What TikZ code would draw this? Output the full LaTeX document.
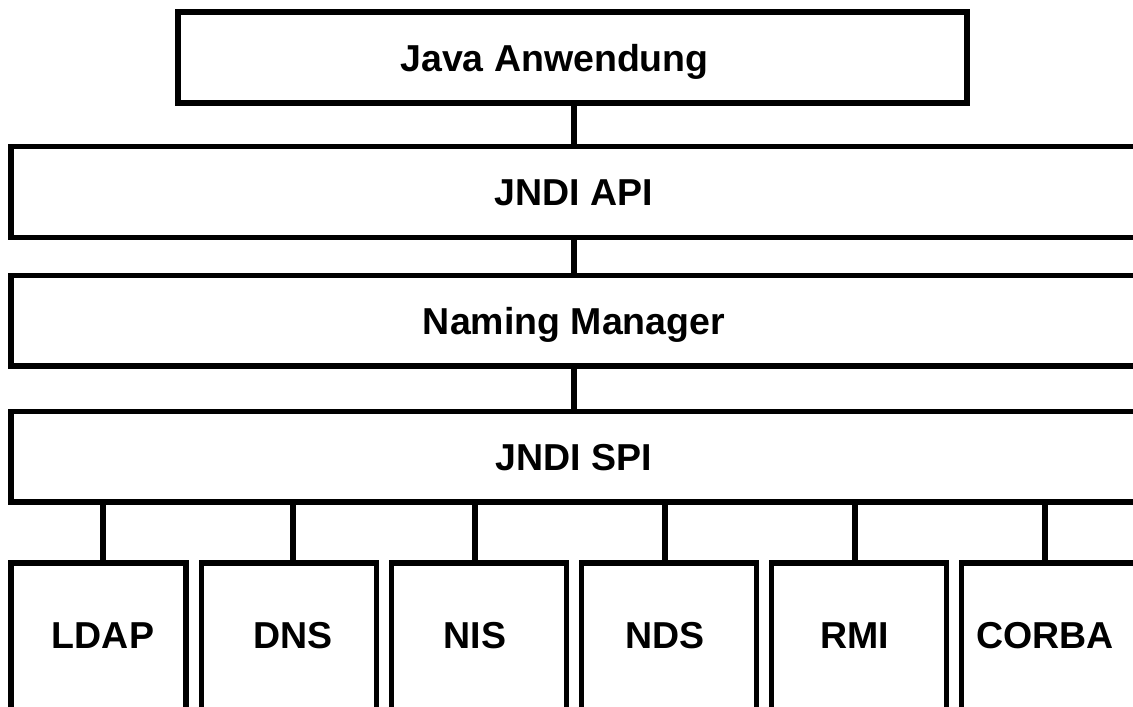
\documentclass[tikz,border=0pt]{standalone}
\usepackage{fontspec}
\setmainfont{Liberation Sans}
\begin{document}
\begin{tikzpicture}[x=1pt,y=-1pt,
  txt/.style={font=\fontsize{37.5}{45}\selectfont\bfseries,text height=27pt,text depth=0pt},
  box/.style={draw=black,line width=5.3pt,rectangle,inner sep=0pt,outer sep=0pt,fill=white,txt},
  leaf/.style={box,minimum width=175pt,minimum height=160pt},
  conn/.style={draw=black,line width=5.3pt}]
\useasboundingbox (0,0) rectangle (1133,707);
\clip (0,0) rectangle (1133,707);
\node[box,minimum width=789pt,minimum height=91pt,label={[txt,xshift=-18pt]center:Java Anwendung}] (app) at (572.5,57.5) {};
\node[box,minimum width=1126pt,minimum height=91pt] (api) at (574,192) {JNDI API};
\node[box,minimum width=1126pt,minimum height=90.5pt] (nm) at (574,320.75) {Naming Manager};
\node[box,minimum width=1126pt,minimum height=90.5pt] (spi) at (574,456.75) {JNDI SPI};
\node[leaf,label={[txt,xshift=4.5pt,yshift=8pt]center:LDAP}] (ldap) at (98.5,643) {};
\node[leaf,label={[txt,xshift=4pt,yshift=8pt]center:DNS}] (dns) at (289,643) {};
\node[leaf,label={[txt,xshift=-4pt,yshift=8pt]center:NIS}] (nis) at (479,643) {};
\node[leaf,label={[txt,xshift=-4pt,yshift=8pt]center:NDS}] (nds) at (669,643) {};
\node[leaf,label={[txt,xshift=-4pt,yshift=8pt]center:RMI}] (rmi) at (859,643) {};
\node[leaf,label={[txt,xshift=-4pt,yshift=8pt]center:CORBA}] (corba) at (1049,643) {};
\draw[conn] (api.north) -- (api.north |- app.south);
\draw[conn] (nm.north) -- (api.south);
\draw[conn] (spi.north) -- (nm.south);
\draw[conn] ([xshift=4.5pt]ldap.north) -- ([xshift=4.5pt]ldap.north |- spi.south);
\draw[conn] ([xshift=4pt]dns.north) -- ([xshift=4pt]dns.north |- spi.south);
\draw[conn] ([xshift=-4pt]nis.north) -- ([xshift=-4pt]nis.north |- spi.south);
\draw[conn] ([xshift=-4pt]nds.north) -- ([xshift=-4pt]nds.north |- spi.south);
\draw[conn] ([xshift=-4pt]rmi.north) -- ([xshift=-4pt]rmi.north |- spi.south);
\draw[conn] ([xshift=-4pt]corba.north) -- ([xshift=-4pt]corba.north |- spi.south);
\end{tikzpicture}
\end{document}
